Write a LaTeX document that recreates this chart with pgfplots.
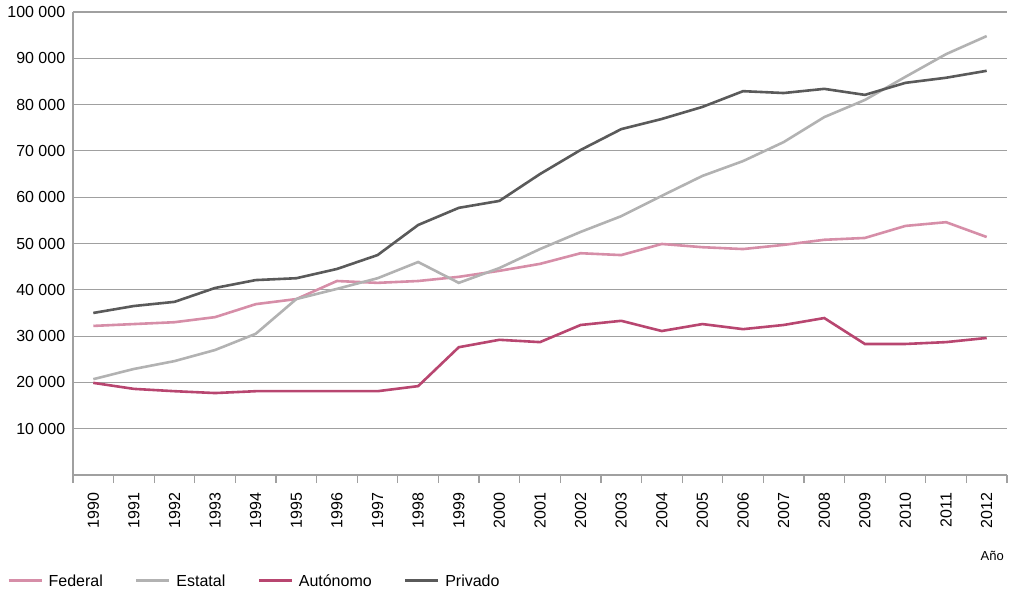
\documentclass[border=0pt]{standalone}
\usepackage{pgfplots}
\pgfplotsset{compat=1.18}
\usepackage{fontspec}
\setmainfont{Liberation Sans}
\definecolor{cfed}{RGB}{214,142,168}
\definecolor{cest}{RGB}{178,178,178}
\definecolor{caut}{RGB}{184,70,112}
\definecolor{cpri}{RGB}{90,90,90}
\definecolor{cgrid}{RGB}{160,160,160}
\begin{document}
\begin{tikzpicture}
\useasboundingbox (-73pt,-117pt) rectangle (937pt,475pt);
\begin{axis}[
  at={(0,0)}, anchor=south west,
  scale only axis, width=934pt, height=463pt,
  xmin=-0.5, xmax=22.5, ymin=0, ymax=100000,
  clip=false,
  axis lines*=left,
  axis line style={draw=cgrid, line width=1.2pt},
  ymajorgrids, grid style={draw=cgrid, line width=1.2pt},
  ytick={10000,20000,30000,40000,50000,60000,70000,80000,90000,100000},
  yticklabels={10 000,20 000,30 000,40 000,50 000,60 000,70 000,80 000,90 000,100 000},
  ytick style={draw=none},
  scaled y ticks=false,
  yticklabel style={font=\fontsize{16}{16}\selectfont, xshift=0pt},
  xtick={0,1,2,3,4,5,6,7,8,9,10,11,12,13,14,15,16,17,18,19,20,21,22},
  xticklabels={1990,1991,1992,1993,1994,1995,1996,1997,1998,1999,2000,2001,2002,2003,2004,2005,2006,2007,2008,2009,2010,2011,2012},
  minor xtick={-0.5,0.5,1.5,2.5,3.5,4.5,5.5,6.5,7.5,8.5,9.5,10.5,11.5,12.5,13.5,14.5,15.5,16.5,17.5,18.5,19.5,20.5,21.5,22.5},
  major x tick style={draw=none},
  minor x tick style={draw=cgrid, line width=1.2pt},
  minor tick length=8pt,
  tick align=outside, xtick pos=bottom,
  xticklabel style={rotate=90, anchor=east, font=\fontsize{16}{16}\selectfont, xshift=-10pt},
  legend columns=4,
  legend style={at={(rel axis cs:-0.0707,-0.2289)}, anchor=west, draw=none, fill=none, inner sep=0pt,
    font=\fontsize{16}{16}\selectfont,
    /tikz/every even column/.append style={column sep=30pt}},
  legend cell align=left,
  legend image code/.code={\draw[#1, line width=3pt] (0pt,0pt) -- (33pt,0pt); \path[draw=none] (0pt,0pt) -- (38pt,0pt);},
]
\addplot[cfed, line width=2.6pt] coordinates {
(0,32200)(1,32600)(2,33000)(3,34100)(4,36900)(5,38000)(6,41900)(7,41500)(8,41900)(9,42800)(10,44100)(11,45600)(12,47900)(13,47500)(14,49900)(15,49200)(16,48800)(17,49700)(18,50800)(19,51200)(20,53800)(21,54600)(22,51400)};
\addlegendentry{Federal}
\addplot[cest, line width=2.6pt] coordinates {
(0,20700)(1,22900)(2,24600)(3,27000)(4,30500)(5,38000)(6,40200)(7,42500)(8,46000)(9,41500)(10,44700)(11,48800)(12,52500)(13,55900)(14,60300)(15,64600)(16,67800)(17,71900)(18,77300)(19,81000)(20,86000)(21,90900)(22,94800)};
\addlegendentry{Estatal}
\addplot[caut, line width=2.6pt] coordinates {
(0,19900)(1,18600)(2,18100)(3,17700)(4,18100)(5,18100)(6,18100)(7,18100)(8,19200)(9,27600)(10,29200)(11,28700)(12,32400)(13,33300)(14,31100)(15,32600)(16,31500)(17,32400)(18,33900)(19,28300)(20,28300)(21,28700)(22,29600)};
\addlegendentry{Autónomo}
\addplot[cpri, line width=2.6pt] coordinates {
(0,35000)(1,36500)(2,37400)(3,40400)(4,42100)(5,42500)(6,44500)(7,47500)(8,54000)(9,57700)(10,59200)(11,65000)(12,70200)(13,74700)(14,76900)(15,79500)(16,82900)(17,82500)(18,83400)(19,82100)(20,84700)(21,85800)(22,87300)};
\addlegendentry{Privado}
\node[anchor=east, inner sep=0pt, font=\fontsize{13}{13}\selectfont] at (rel axis cs:1,0) [xshift=-3pt, yshift=-81pt] {Año};
\end{axis}
\end{tikzpicture}
\end{document}
